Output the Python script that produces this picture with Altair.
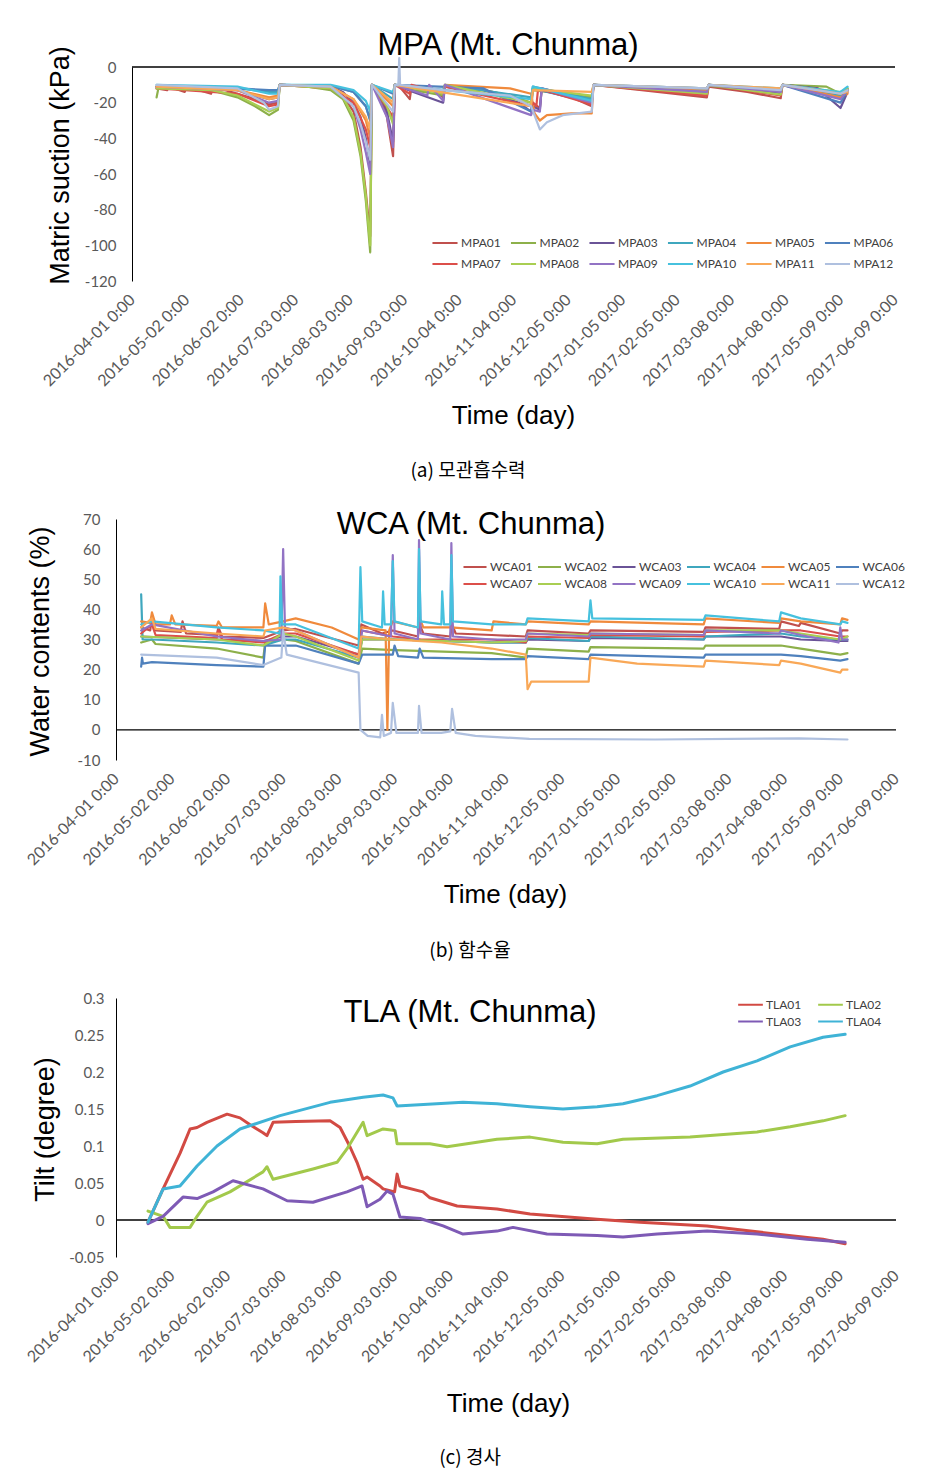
import json
import altair as alt
import pandas as pd

# ---------------- tick labels (x axis: days since 2016-04-01) ----------------
TICK_DAYS = [0, 31, 62, 93, 124, 155, 186, 217, 248, 279, 310, 341, 372, 403, 434]
TICK_LABELS = ["2016-04-01 0:00", "2016-05-02 0:00", "2016-06-02 0:00", "2016-07-03 0:00",
               "2016-08-03 0:00", "2016-09-03 0:00", "2016-10-04 0:00", "2016-11-04 0:00",
               "2016-12-05 0:00", "2017-01-05 0:00", "2017-02-05 0:00", "2017-03-08 0:00",
               "2017-04-08 0:00", "2017-05-09 0:00", "2017-06-09 0:00"]

MPA_TICKS = [0, -20, -40, -60, -80, -100, -120]
WCA_TICKS = [70, 60, 50, 40, 30, 20, 10, 0, -10]
TLA_TICKS = [0.3, 0.25, 0.2, 0.15, 0.1, 0.05, 0, -0.05]

# ---------------- (a) matric suction, kPa: (day, value) ----------------
MPA01 = [(14,-12),(20,-13),(21,-11),(30,-14),(31,-11),(45,-15),(46,-11),(60,-15),(70,-18),(78,-21),(83,-20),(84,-10),(100,-10.5),(113,-12),(120,-16),(126,-25),(130,-45),(133,-70),(135.5,-95),(136.5,-10),(140,-14),(145,-28),(148.5,-50),(149.5,-11),(152,-10),(153,-12),(158,-18),(159,-11),(168,-14),(169,-11),(177,-17),(178,-11),(200,-13),(215,-16),(227,-22),(228,-20),(232,-23),(233,-13),(250,-17),(261.5,-22),(262.5,-10),(290,-13),(327,-17),(328,-11),(350,-14),(369,-17.5),(370,-10),(390,-12),(403,-17),(407,-13)]
MPA02 = [(14,-17),(15,-12),(30,-12),(45,-13),(60,-17),(70,-22),(78,-27),(83,-24),(84,-10),(100,-11),(113,-13),(120,-18),(126,-30),(130,-50),(133,-75),(135.5,-104),(136.5,-10),(140,-15),(145,-24),(148.5,-30),(149.5,-10),(160,-13),(177,-16),(178,-11),(200,-13),(215,-16),(227,-20),(228,-13),(261.5,-17),(262.5,-10),(327,-15),(328,-10.5),(369,-15),(370,-10),(395,-11),(403,-15),(407,-12)]
MPA03 = [(14,-11),(30,-12),(60,-13),(78,-18),(83,-17),(84,-10),(113,-11),(120,-14),(126,-20),(130,-28),(133,-40),(135.5,-55),(136.5,-10),(140,-13),(145,-25),(148.5,-42),(149.5,-10),(160,-14),(177,-20),(178,-11),(200,-13),(220,-20),(227,-25),(228,-22),(232,-24),(233,-12),(261.5,-19),(262.5,-10),(327,-14),(328,-10),(369,-15),(370,-10),(390,-12),(403,-23),(407,-14)]
MPA04 = [(14,-11),(60,-12),(78,-14),(83,-14),(84,-10),(113,-10.5),(126,-14),(133,-22),(135.5,-30),(136.5,-10),(148.5,-18),(149.5,-10),(177,-13),(178,-10),(227,-17),(228,-11),(261.5,-18),(262.5,-10),(327,-13),(328,-10),(369,-13.5),(370,-10),(403,-16),(407,-12)]
MPA05 = [(14,-11),(60,-13),(78,-17),(83,-16),(84,-10),(113,-11),(126,-18),(133,-30),(135.5,-40),(136.5,-10),(148.5,-22),(149.5,-10),(177,-14),(178,-10),(215,-12),(227,-15),(229,-26),(232,-30),(236,-27),(250,-26),(261.5,-26),(262.5,-10),(327,-13),(328,-10),(369,-13),(370,-10),(403,-17),(407,-15)]
MPA06 = [(14,-11),(60,-12),(78,-13),(83,-13),(84,-10),(113,-10.5),(126,-14),(133,-22),(135.5,-30),(136.5,-10),(148.5,-15),(149.5,-10),(200,-12),(227,-25),(228,-12),(261.5,-20),(262.5,-10),(327,-12),(328,-10),(369,-12.5),(370,-10),(403,-20),(407,-13)]
MPA07 = [(14,-12),(30,-13),(60,-15),(78,-22),(83,-21),(84,-10),(113,-12),(126,-20),(133,-35),(135.5,-45),(136.5,-10),(148.5,-28),(149.5,-10),(158,-15),(159,-10),(177,-15),(178,-11),(227,-22),(228,-20),(230,-22),(231,-12),(261.5,-21),(262.5,-10),(327,-16),(328,-10),(369,-16),(370,-10),(403,-15),(407,-13)]
MPA08 = [(14,-12),(45,-13),(60,-16),(70,-21),(78,-25),(83,-23),(84,-10),(113,-12),(120,-17),(126,-28),(130,-48),(133,-72),(135.5,-100),(136.5,-10),(145,-22),(148.5,-32),(149.5,-10),(177,-15),(178,-10),(227,-20),(228,-12),(261.5,-16),(262.5,-10),(327,-15),(328,-10),(369,-15.5),(370,-10),(403,-14),(407,-12)]
MPA09 = [(14,-11),(60,-13),(78,-20),(83,-19),(84,-10),(113,-11),(126,-22),(130,-35),(133,-48),(135.5,-60),(136.5,-10),(145,-28),(148.5,-45),(149.5,-10),(168,-16),(169,-10),(177,-19),(178,-10),(227,-27),(228,-24),(232,-25),(233,-12),(261.5,-20),(262.5,-10),(327,-14),(328,-10),(369,-14),(370,-10),(403,-18),(407,-13)]
MPA10 = [(14,-10),(60,-11),(78,-15),(83,-15),(84,-10),(113,-10),(126,-13),(133,-19),(135.5,-25),(136.5,-10),(148.5,-14),(149.5,-10),(227,-18),(228,-11),(261.5,-19),(262.5,-10),(327,-12),(328,-10),(369,-12),(370,-10),(403,-14),(407,-11)]
MPA11 = [(14,-11),(60,-13),(78,-18),(83,-17),(84,-10),(113,-11),(126,-18),(133,-28),(135.5,-35),(136.5,-10),(148.5,-20),(149.5,-10),(227,-22),(228,-13),(261.5,-14),(262.5,-10),(327,-12),(328,-10),(369,-12),(370,-10),(403,-15),(407,-14)]
MPA12 = [(14,-10),(60,-12),(75,-20),(78,-24),(83,-22),(84,-10),(113,-11),(126,-22),(130,-32),(133,-42),(135.5,-52),(136.5,-10),(148.5,-25),(149.5,-10),(151.5,-10),(152,5),(152.5,-10),(177,-13),(215,-16),(227,-22),(232,-35),(236,-31),(245,-27),(261.5,-25),(262.5,-10),(327,-12),(328,-10),(369,-13),(370,-10),(403,-15),(407,-13)]

# ---------------- (b) water contents, %: (day, value) ----------------
WCA01 = [(14,34),(19,33),(20,37),(22,33),(36,32.5),(37,36),(39,32),(56,31.5),(57,34),(59,31),(82,30.5),(93,33),(100,33.5),(135,28),(136.5,35),(148,32),(154,33),(168,31),(169,35),(171,32),(186,31),(187,35),(189,32),(209,31.5),(228,31),(229,33),(263,32),(264,33),(327,32.5),(328,34),(369,33.5),(370,36),(380,34.5),(381,35.5),(403,32),(404,33),(407,33)]
WCA02 = [(14,29),(20,30),(22,28.5),(56,27),(82,24),(83,29),(93,30),(100,29.5),(135,22),(137,27),(155,26.5),(209,25.5),(228,24),(229,27),(263,26),(264,27.5),(327,27),(328,28),(370,28),(381,27),(403,25),(407,25.5)]
WCA03 = [(14,31),(56,30),(82,29.5),(93,31),(100,31),(135,25),(137,30),(155,30),(209,29),(228,29),(229,30),(263,29.5),(264,30.5),(327,30),(328,31),(370,31),(381,30),(403,29.5),(407,29.5)]
WCA04 = [(14,45),(14.8,30),(20,30),(56,29),(82,28),(93,30),(100,30),(135,24),(137,31),(155,30),(209,29),(228,29),(229,30.5),(263,29.5),(264,31),(327,30),(328,31),(370,32),(381,31),(403,30),(407,30)]
WCA05 = [(14,36),(19,35.5),(20,39),(22,35),(30,35),(31,38),(33,35),(56,34.5),(57,36),(59,34),(82,34),(83,42),(85,35),(93,36),(100,37),(120,34),(135,30),(136.5,34),(150,33),(151,0),(152,33),(154,36),(168,34),(169,37),(171,34),(186,34),(209,33),(210,36),(228,35),(229,36),(263,35),(264,36),(327,35),(328,37),(369,35.5),(370,37),(381,36),(403,35),(404,37),(407,36.5)]
WCA06 = [(14,21),(14.5,24),(15,22),(20,22.5),(56,21.5),(82,21),(83,28),(100,28),(135,22),(137,25),(154,25),(155,28),(157,24.5),(168,24),(169,27),(171,24),(209,23.5),(228,23.5),(229,24.5),(263,23.5),(264,25),(327,24),(328,25),(370,25),(381,24.5),(403,23),(407,23.5)]
WCA07 = [(14,32),(20,35),(22,31.5),(56,30.5),(57,33),(59,30),(82,29),(93,32),(100,32),(135,25),(136.5,33),(154,31),(170,30),(209,30),(228,29),(229,31),(263,30.5),(264,31.5),(327,31),(328,32.5),(370,33),(381,33),(403,31),(407,31)]
WCA08 = [(14,31),(56,30),(82,28),(93,32),(100,31),(135,23),(137,30),(155,30),(209,29),(228,29.5),(229,32),(263,31.5),(264,32),(327,31.5),(328,33),(370,33),(381,32),(403,30),(407,31)]
WCA09 = [(14,33),(20,35),(56,31),(82,29.5),(92,30),(93,60),(94,34),(100,33),(135,24),(137,33),(153,31),(154,58),(155,32),(168,30),(168.6,63),(169.5,32),(186,30),(186.6,62),(187.5,31),(209,30),(228,30),(229,32),(263,31),(264,32),(327,31.5),(328,33),(369,32),(370,33),(381,31.5),(402,29),(403,34),(404,30),(407,30)]
WCA10 = [(14,35),(20,36),(56,34),(82,33),(91,32),(91.5,51),(92.5,35),(100,35),(135,27),(136,54),(137,36),(148,34),(148.6,46),(149.5,35),(153,35),(154,56),(155,36),(168,34),(168.6,60),(169.5,36),(181,35),(181.5,46),(182.5,35),(186,35),(186.6,58),(187.5,36),(209,35),(228,35),(229,37),(263,36),(264,43),(265,37),(327,36.5),(328,38),(369,36),(370,39),(381,37),(403,35),(404,36),(407,35.5)]
WCA11 = [(14,34),(20,37),(22,33.5),(56,32),(82,31),(83,33),(93,34),(100,33),(135,24),(136.5,31),(154,30),(181,29),(209,27),(228,25),(229,13.5),(231,16),(263,16),(264,24),(290,22),(327,21),(328,23),(369,21.5),(370,23),(381,22),(403,19),(404,20),(407,20)]
WCA12 = [(14,25),(56,24),(82,21.5),(92,24),(93,33),(95,25),(135,19),(136,0),(140,-2),(147,-2.5),(148,5),(149,-2),(153,-1),(154,9),(156,-1),(168,-1),(168.6,8),(170,-1),(181,-1),(186,-0.5),(187,7),(189,-1),(200,-2),(230,-3),(300,-3.2),(380,-2.8),(407,-3.2)]

# ---------------- (c) tilt, degree: (day, value) ----------------
TLA01 = [(17.8,-0.003),(26.2,0.042),(35.6,0.09),(41.2,0.123),(45.1,0.125),(50.6,0.132),(61.8,0.143),(69.0,0.138),(75,0.128),(81.8,0.118),(84,0.114),(87.4,0.132),(100,0.133),(119.1,0.134),(124.7,0.125),(130,0.10),(134.1,0.078),(137.5,0.055),(139.7,0.058),(146.9,0.046),(148.6,0.042),(155,0.038),(156.4,0.062),(158,0.046),(170.8,0.038),(174.7,0.03),(189.8,0.019),(212,0.015),(230.4,0.008),(267.7,0.001),(291.6,-0.003),(328.9,-0.008),(356.7,-0.016),(393.4,-0.026),(405.7,-0.032)]
TLA02 = [(17.8,0.012),(26.2,0.005),(30,-0.01),(41.2,-0.01),(45.1,0.005),(50.6,0.024),(63.4,0.038),(81.8,0.065),(84,0.072),(87.4,0.055),(109.6,0.069),(123,0.078),(128.5,0.096),(137.5,0.132),(139.7,0.114),(148.6,0.123),(155.3,0.121),(156.4,0.103),(174.7,0.103),(184.2,0.099),(212,0.109),(230.4,0.112),(248.7,0.105),(267.7,0.103),(282.1,0.109),(319.4,0.112),(356.7,0.119),(375.1,0.126),(393.4,0.134),(405.7,0.141)]
TLA03 = [(17.8,-0.005),(26.2,0.005),(37.3,0.031),(45.1,0.029),(54,0.038),(65.1,0.053),(81.8,0.042),(95.2,0.026),(109.6,0.024),(128.5,0.038),(136.9,0.046),(139.7,0.018),(146.9,0.028),(150.8,0.039),(154.1,0.035),(158,0.004),(169.2,0.002),(182,-0.008),(193.1,-0.019),(212,-0.015),(220.9,-0.01),(239.8,-0.019),(267.7,-0.021),(282.1,-0.023),(301.1,-0.019),(328.9,-0.015),(356.7,-0.019),(384.5,-0.026),(405.7,-0.030)]
TLA04 = [(17.8,-0.003),(26.2,0.042),(35.6,0.046),(45.1,0.073),(56.2,0.1),(69,0.123),(91.3,0.141),(119.1,0.159),(137.5,0.166),(148.6,0.169),(154.1,0.165),(156.4,0.154),(193.1,0.159),(212,0.157),(230.4,0.153),(248.7,0.150),(267.7,0.153),(282.1,0.157),(301.1,0.168),(319.4,0.181),(337.8,0.2),(356.7,0.215),(375.1,0.234),(393.4,0.247),(405.7,0.251)]

MPA_NAMES = ["MPA%02d" % i for i in range(1, 13)]
WCA_NAMES = ["WCA%02d" % i for i in range(1, 13)]
TLA_NAMES = ["TLA01", "TLA02", "TLA03", "TLA04"]
MPA_SERIES = [MPA01, MPA02, MPA03, MPA04, MPA05, MPA06, MPA07, MPA08, MPA09, MPA10, MPA11, MPA12]
WCA_SERIES = [WCA01, WCA02, WCA03, WCA04, WCA05, WCA06, WCA07, WCA08, WCA09, WCA10, WCA11, WCA12]
TLA_SERIES = [TLA01, TLA02, TLA03, TLA04]

COLORS12 = ["#C0504D", "#8DB04A", "#6A5397", "#3FA7BE", "#F08A3C", "#4F81BD",
            "#DC4F4A", "#A9CE52", "#9273C4", "#46C1DE", "#F9A857", "#AFC0DF"]
TLA_COLORS = ["#D24A43", "#A2C94B", "#7E5AB5", "#3FB3D6"]


def frame(names, series):
    rows = []
    for n, s in zip(names, series):
        for k, (d, v) in enumerate(s):
            rows.append({"s": n, "d": d, "v": v, "o": k})
    return pd.DataFrame(rows)


LABEL_EXPR = "%s[indexof(%s, datum.value)]" % (json.dumps(TICK_LABELS), json.dumps(TICK_DAYS))
TXT_FONT = "Liberation Sans"
LBL_FONT = "Lato"


def panel(names, series, colors, xdomain, ydomain, yticks, ytitle, yoffset, ytpos,
          height, title, tpos, caption, cpos, xtpos, legend, lw, ylpad):
    df = frame(names, series)
    x_axis = alt.Axis(values=TICK_DAYS, labelExpr=LABEL_EXPR, labelAngle=-45, labelAlign="right",
                      labelBaseline="middle", labelPadding=16, labelFont=LBL_FONT, labelFontSize=16,
                      labelColor="#595959", labelOverlap=False, labelBound=False, labelFlush=False,
                      domain=False, ticks=False, tickSize=0, grid=False, title="Time (day)",
                      titleFont=TXT_FONT, titleFontSize=26, titleFontWeight="normal", titleColor="#000",
                      titleX=xtpos[0], titleY=xtpos[1], titleAlign="center", titleBaseline="middle")
    y_axis = alt.Axis(values=yticks, labelExpr="datum.value + ''", offset=yoffset, labelPadding=ylpad,
                      labelFont=LBL_FONT, labelFontSize=15, labelColor="#595959", domainColor="#000",
                      domainWidth=1, ticks=False, tickSize=0, grid=False, title=ytitle,
                      titleFont=TXT_FONT, titleFontSize=27, titleFontWeight="normal", titleColor="#000",
                      titleX=ytpos[0], titleY=ytpos[1], titleAngle=270, titleAlign="center",
                      titleBaseline="middle")
    xs = alt.Scale(domain=xdomain, nice=False, zero=False)
    ys = alt.Scale(domain=ydomain, nice=False, zero=False)
    lines = alt.Chart(df).mark_line(strokeWidth=lw, strokeJoin="round", strokeCap="round").encode(
        x=alt.X("d:Q", scale=xs, axis=x_axis),
        y=alt.Y("v:Q", scale=ys, axis=y_axis),
        order="o:Q",
        color=alt.Color("s:N", scale=alt.Scale(domain=names, range=colors),
                        legend=alt.Legend(orient="none", legendX=legend["x"], legendY=legend["y"],
                                          direction="horizontal",
                                          columns=legend["cols"], symbolType=legend["path"],
                                          symbolSize=legend["size"], symbolStrokeWidth=2,
                                          labelFont=LBL_FONT, labelFontSize=12, labelColor="#404040",
                                          labelOffset=legend["loff"], columnPadding=legend["cpad"],
                                          rowPadding=legend["rpad"], title=None)),
    )
    zero = alt.Chart(pd.DataFrame({"d": [0], "d2": [434], "v": [0]})).mark_rule(
        color="#000", strokeWidth=1.3).encode(
        x=alt.X("d:Q", scale=xs, axis=x_axis), x2="d2:Q", y=alt.Y("v:Q", scale=ys, axis=y_axis))

    def txt(t, pos, size, font):
        return alt.Chart(pd.DataFrame({"t": [t]})).mark_text(
            font=font, fontSize=size, color="#000", align="center", baseline="middle").encode(
            text="t:N", x=alt.value(pos[0]), y=alt.value(pos[1]))

    return alt.layer(zero, lines, txt(title, tpos, 31, TXT_FONT),
                     txt(caption, cpos, 19, "Noto Sans CJK KR")).properties(width=780, height=height)


pa = panel(MPA_NAMES, MPA_SERIES, COLORS12, [-9.10, 434.57], [-120, 0], MPA_TICKS,
           "Matric suction (kPa)", -16, (-72, 98), 214, "MPA (Mt. Chunma)", (392, -21),
           "(a) 모관흡수력", (352, 404), (397, 134),
           {"x": 317, "y": 164, "cols": 6, "path": "M-1.14,0H1.14", "size": 484, "loff": 4,
            "cpad": 5.5, "rpad": 3},
           2.2, 16)
pb = panel(WCA_NAMES, WCA_SERIES, COLORS12, [0, 434], [-10, 70], WCA_TICKS,
           "Water contents (%)", 0, (-76, 122), 241, "WCA (Mt. Chunma)", (355, 6),
           "(b) 함수율", (354, 432), (389, 134),
           {"x": 349, "y": 38, "cols": 6, "path": "M-1.28,0H1.28", "size": 324, "loff": 5,
            "cpad": 0.5, "rpad": 1},
           2.2, 16)
pc = panel(TLA_NAMES, TLA_SERIES, TLA_COLORS, [0, 434], [-0.05, 0.3], TLA_TICKS,
           "Tilt (degree)", 0, (-71, 131), 259, "TLA (Mt. Chunma)", (354, 15),
           "(c) 경사", (354, 460), (392, 146),
           {"x": 624, "y": -4, "cols": 2, "path": "M-1.3,0H1.3", "size": 361, "loff": 5,
            "cpad": 12, "rpad": 0},
           3, 12)

chart = alt.vconcat(pa, pb, pc, spacing=238).resolve_scale(
    x="independent", y="independent", color="independent").properties(
    bounds="flush", padding={"left": 16, "top": 22, "right": 0, "bottom": 0},
    background="#ffffff").configure_view(stroke=None)

chart.save("out.html", embed_options={"renderer": "svg", "actions": False})
